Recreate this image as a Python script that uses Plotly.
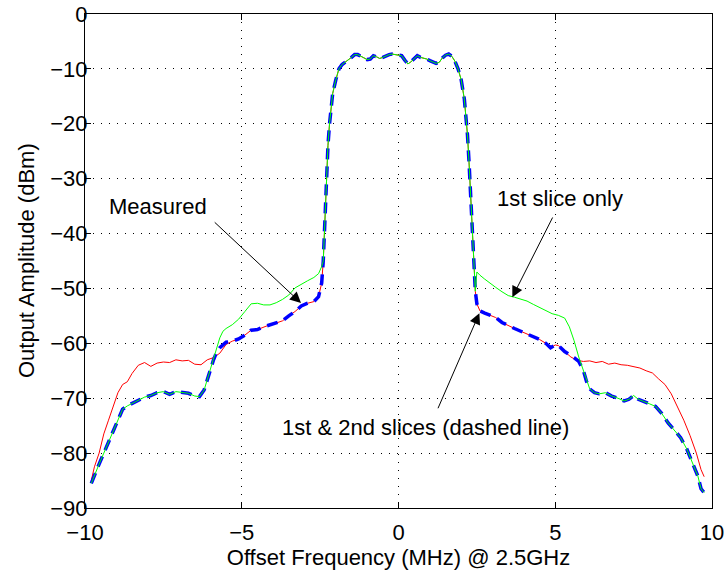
import plotly.graph_objects as go

# ---------------- data ----------------
center_x = [-2.4, -2.35, -2.3, -2.25, -2.2, -2.15, -2.1, -2.0, -1.9, -1.8, -1.7, -1.6, -1.5, -1.4, -1.3, -1.2,
            -1.1, -1.0, -0.9, -0.8, -0.7, -0.6, -0.5, -0.4, -0.3, -0.2, -0.1, 0.0, 0.1, 0.2, 0.3, 0.4,
            0.5, 0.6, 0.7, 0.8, 0.9, 1.0, 1.1, 1.2, 1.3, 1.4, 1.5, 1.6, 1.7, 1.8, 1.9, 2.0, 2.1, 2.15,
            2.2, 2.25, 2.3, 2.35, 2.4, 2.45]
center_y = [-45.0, -38.0, -30.0, -24.0, -20.0, -17.0, -14.5, -12.0, -10.0, -9.2, -8.8, -8.4, -7.9, -7.4, -7.4, -7.7,
            -8.0, -8.3, -8.2, -7.6, -7.8, -8.1, -7.9, -7.6, -7.4, -7.3, -7.4, -7.4, -7.6, -8.4, -9.1, -8.7,
            -8.1, -7.6, -7.9, -8.0, -8.2, -8.5, -8.8, -9.0, -8.8, -8.0, -7.5, -7.3, -7.7, -8.6, -10.0, -12.0, -15.5, -18.5,
            -22.0, -27.0, -33.0, -40.0, -46.0, -50.5]

red_left_x = [-9.8, -9.7, -9.55, -9.4, -9.25, -9.1, -8.95, -8.8, -8.65, -8.5, -8.3, -8.1, -7.9, -7.7, -7.5, -7.3,
              -7.1, -6.9, -6.7, -6.5, -6.3, -6.1, -5.9, -5.7, -5.5, -5.3, -5.1, -4.9, -4.7, -4.5, -4.3, -4.1,
              -3.9, -3.7, -3.5, -3.3, -3.1, -2.9, -2.7, -2.55, -2.45]
red_left_y = [-85.0, -82.5, -80.0, -76.5, -74.0, -71.5, -69.0, -67.5, -67.0, -65.5, -64.0, -63.5, -64.2, -63.6, -63.4, -63.5,
              -63.0, -63.2, -63.1, -63.8, -63.9, -63.0, -62.6, -61.8, -60.2, -59.6, -59.2, -58.5, -57.6, -57.5, -57.0, -56.6,
              -56.3, -55.9, -55.0, -54.2, -53.2, -52.7, -52.4, -51.5, -49.0]
red_right_x = [2.5, 2.6, 2.75, 2.9, 3.1, 3.3, 3.5, 3.7, 3.9, 4.1, 4.3, 4.5, 4.7, 4.85, 5.0, 5.1,
               5.3, 5.5, 5.7, 5.9, 6.1, 6.3, 6.5, 6.7, 6.9, 7.1, 7.3, 7.5, 7.7, 7.9, 8.1, 8.3,
               8.5, 8.7, 8.9, 9.1, 9.3, 9.5, 9.65, 9.75]
red_right_y = [-52.8, -54.1, -54.5, -54.8, -55.3, -56.2, -56.8, -57.3, -57.8, -58.3, -58.9, -59.3, -60.0, -60.8, -60.3, -60.4,
               -61.5, -62.5, -63.1, -63.3, -63.2, -63.5, -63.3, -63.8, -63.6, -63.9, -64.0, -64.3, -64.5, -65.0, -65.4, -66.5,
               -67.5, -69.2, -71.5, -74.0, -76.8, -80.0, -83.0, -84.3]

green_left_x = [-9.8, -9.7, -9.55, -9.4, -9.25, -9.1, -8.95, -8.8, -8.65, -8.5, -8.3, -8.1, -7.9, -7.7, -7.5, -7.3,
                -7.1, -6.9, -6.7, -6.5, -6.35, -6.2, -6.1, -6.0, -5.9, -5.8, -5.7, -5.6, -5.5, -5.3, -5.1, -4.9,
                -4.7, -4.5, -4.3, -4.1, -3.9, -3.7, -3.5, -3.3, -3.1, -2.9, -2.7, -2.55, -2.45]
green_left_y = [-85.5, -84.0, -82.0, -80.0, -78.0, -76.0, -73.8, -72.0, -71.4, -71.0, -70.4, -69.8, -69.5, -69.0, -68.8, -69.3,
                -68.8, -69.0, -69.1, -69.6, -69.7, -68.5, -66.5, -64.5, -63.0, -61.0, -59.0, -57.8, -57.3, -56.6, -55.6, -54.2,
                -52.8, -52.7, -53.0, -53.0, -52.6, -52.0, -51.2, -49.9, -49.2, -48.6, -48.0, -47.3, -46.0]
green_right_x = [2.5, 2.6, 2.75, 2.9, 3.1, 3.3, 3.5, 3.7, 3.9, 4.1, 4.3, 4.5, 4.7, 4.9, 5.1, 5.3,
                 5.45, 5.6, 5.75, 5.9, 6.0, 6.1, 6.25, 6.4, 6.6, 6.8, 7.0, 7.2, 7.35, 7.5, 7.65, 7.8,
                 8.0, 8.2, 8.4, 8.6, 8.8, 9.0, 9.2, 9.4, 9.55, 9.65, 9.75]
green_right_y = [-47.0, -47.6, -48.3, -49.0, -49.8, -50.6, -51.3, -51.6, -52.0, -52.3, -52.9, -53.5, -54.1, -54.6, -54.9, -55.4,
                 -57.0, -59.5, -62.5, -65.0, -67.0, -68.3, -69.0, -69.2, -69.0, -69.6, -70.0, -70.5, -70.2, -69.5, -70.2, -70.6,
                 -71.0, -71.5, -72.8, -74.5, -75.8, -77.2, -79.3, -82.0, -84.2, -86.5, -87.2]

blue_left_x = [-9.8, -9.7, -9.55, -9.4, -9.25, -9.1, -8.95, -8.8, -8.65, -8.5, -8.3, -8.1, -7.9, -7.7, -7.5, -7.3,
               -7.1, -6.9, -6.7, -6.5, -6.35, -6.2, -6.1, -6.0, -5.9, -5.8, -5.7, -5.5, -5.3, -5.1, -4.9, -4.7,
               -4.5, -4.3, -4.1, -3.9, -3.7, -3.5, -3.3, -3.1, -2.9, -2.7, -2.55, -2.45]
blue_left_y = [-85.5, -84.0, -82.0, -80.0, -78.0, -76.0, -73.8, -72.0, -71.4, -71.0, -70.4, -69.8, -69.5, -69.0, -68.8, -69.3,
               -68.8, -69.0, -69.1, -69.6, -69.7, -68.5, -66.5, -64.5, -63.0, -61.6, -60.8, -59.8, -59.6, -59.2, -58.5, -57.6,
               -57.5, -57.0, -56.6, -56.3, -55.9, -55.0, -54.2, -53.2, -52.7, -52.4, -51.5, -49.0]
blue_right_x = [2.5, 2.6, 2.75, 2.9, 3.1, 3.3, 3.5, 3.7, 3.9, 4.1, 4.3, 4.5, 4.7, 4.85, 5.0, 5.1,
                5.3, 5.45, 5.6, 5.75, 5.9, 6.0, 6.1, 6.25, 6.4, 6.6, 6.8, 7.0, 7.2, 7.35, 7.5, 7.65,
                7.8, 8.0, 8.2, 8.4, 8.6, 8.8, 9.0, 9.2, 9.4, 9.55, 9.65, 9.75]
blue_right_y = [-52.8, -54.1, -54.5, -54.8, -55.3, -56.2, -56.8, -57.3, -57.8, -58.3, -58.9, -59.3, -60.0, -60.8, -60.3, -60.4,
                -61.5, -62.0, -62.6, -63.3, -65.0, -67.0, -68.3, -69.0, -69.2, -69.0, -69.6, -70.0, -70.5, -70.2, -69.5, -70.2,
                -70.6, -71.0, -71.5, -72.8, -74.5, -75.8, -77.2, -79.3, -82.0, -84.2, -86.5, -87.2]

x_ticks = [-10, -5, 0, 5, 10]
y_ticks = [0, -10, -20, -30, -40, -50, -60, -70, -80, -90]

x_title = "Offset Frequency (MHz) @ 2.5GHz"
y_title = "Output Amplitude (dBm)"

FONT = "Liberation Sans, Arial, Helvetica, sans-serif"
FS = 22

red_x = red_left_x + center_x + red_right_x
red_y = red_left_y + center_y + red_right_y
green_x = green_left_x + center_x + green_right_x
green_y = green_left_y + center_y + green_right_y
blue_x = blue_left_x + center_x + blue_right_x
blue_y = blue_left_y + center_y + blue_right_y

fig = go.Figure()
fig.add_trace(go.Scatter(x=red_x, y=red_y, mode="lines", name="Measured",
                         line=dict(color="#ff0000", width=1)))
fig.add_trace(go.Scatter(x=blue_x, y=blue_y, mode="lines", name="1st & 2nd slices",
                         line=dict(color="#0000ff", width=3.5, dash="11px,7px")))
fig.add_trace(go.Scatter(x=green_x, y=green_y, mode="lines", name="1st slice only",
                         line=dict(color="#00ff00", width=1)))

axis_common = dict(
    showline=True, linecolor="black", linewidth=1, mirror="ticks",
    ticks="inside", ticklen=6, tickcolor="black",
    showgrid=True, gridcolor="black", gridwidth=1, griddash="1px,7px",
    zeroline=False, automargin=False, ticklabeloverflow="allow",
    tickfont=dict(family=FONT, size=FS, color="black"),
)

fig.update_layout(
    width=728, height=573,
    margin=dict(l=85, r=16, t=14, b=65),
    paper_bgcolor="white", plot_bgcolor="white",
    showlegend=False,
    font=dict(family=FONT, size=FS, color="black"),
    xaxis=dict(range=[-10, 10], tickvals=x_ticks, ticklabelstandoff=5,
               title=dict(text=x_title, font=dict(family=FONT, size=FS), standoff=0),
               **axis_common),
    yaxis=dict(range=[-90, 0], tickvals=y_ticks, ticklabelstandoff=-8,
               **axis_common),
)

# y-axis title (placed as rotated text left of the tick labels)
fig.add_annotation(xref="paper", yref="paper", x=-0.094, y=0.5, text=y_title,
                   textangle=-90, showarrow=False, xanchor="center", yanchor="middle",
                   font=dict(family=FONT, size=FS, color="black"))

# text labels
fig.add_annotation(x=-7.67, y=-35.0, text="Measured", showarrow=False,
                   font=dict(family=FONT, size=FS, color="black"))
fig.add_annotation(x=5.15, y=-33.7, text="1st slice only", showarrow=False,
                   font=dict(family=FONT, size=FS, color="black"))
fig.add_annotation(x=0.85, y=-75.4, text="1st &amp; 2nd slices (dashed line)", showarrow=False,
                   font=dict(family=FONT, size=FS, color="black"))

# arrows
for tip, tail in [((-3.11, -52.65), (-5.91, -37.7)),
                  ((3.63, -51.6), (4.94, -36.8)),
                  ((2.58, -54.5), (1.24, -72.1))]:
    fig.add_annotation(x=tip[0], y=tip[1], ax=tail[0], ay=tail[1], axref="x", ayref="y",
                       text="", showarrow=True, arrowhead=2, arrowsize=2.2, arrowwidth=1,
                       arrowcolor="black")

# remove the browser's default 8px body margin so the figure fills the window
fig.write_html("out.html", config={"displayModeBar": False},
               post_script="document.body.style.margin='0px';")
